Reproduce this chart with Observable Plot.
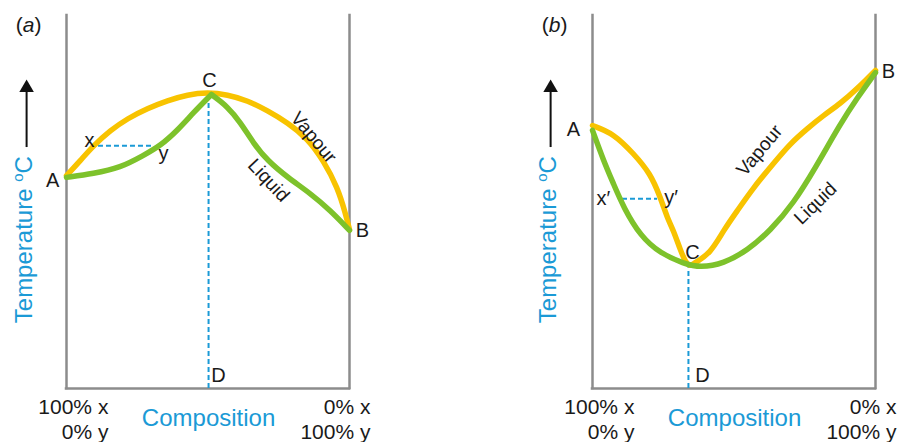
<!DOCTYPE html>
<html><head><meta charset="utf-8">
<script src="https://cdn.jsdelivr.net/npm/d3@7"></script>
<script src="https://cdn.jsdelivr.net/npm/@observablehq/plot@0.6"></script>
<style>
body{margin:0;background:#fff;}
#wrap{display:flex;width:898px;height:442px;background:#fff;}
svg{display:block;}
</style></head><body><div id="wrap"></div>
<script>
// ---- Panel (a): maximum-boiling azeotrope (composition %, temperature arbitrary 0-100)
const aVapourComp = [0, 4.9, 9.5, 15.5, 21.6, 28.6, 35.7, 42.8, 49.8, 56.9, 64.0, 71.0, 78.1, 85.2, 90.8, 95.8, 98.6, 100];
const aVapourTemp = [57.1, 61.1, 65.1, 69.2, 72.4, 75.1, 77.2, 78.8, 79.4, 78.8, 77.2, 74.5, 71.3, 67.0, 61.1, 53.9, 46.9, 42.6];
const aLiquidComp = [0, 9.5, 19.1, 27.2, 33.2, 39.2, 44.9, 51.2, 56.9, 61.5, 66.1, 71.0, 78.1, 86.2, 93.3, 100];
const aLiquidTemp = [56.6, 57.6, 59.2, 62.5, 65.1, 69.2, 74.0, 78.8, 75.6, 71.3, 65.7, 61.1, 56.6, 52.3, 47.7, 42.4];
const aAzeo = [50.2, 78.8];          // composition, temperature of point C
const aTie = [65.1, 11.3, 30.7];     // temperature, from, to

// ---- Panel (b): minimum-boiling azeotrope
const bVapourComp = [0, 7.4, 14.5, 20.5, 24.0, 26.5, 28.6, 31.1, 32.9, 34.6, 35.7, 41.7, 46.3, 51.2, 56.9, 63.9, 69.9, 75.9, 81.6, 87.6, 93.6, 100];
const bVapourTemp = [70.5, 68.4, 63.0, 57.6, 51.2, 45.6, 42.4, 37.0, 33.8, 32.7, 33.5, 36.2, 42.4, 47.7, 53.9, 60.3, 65.7, 69.7, 73.2, 76.4, 80.4, 85.3];
const bLiquidComp = [0, 3.9, 7.4, 11.0, 17.0, 24.0, 32.2, 38.2, 46.3, 54.8, 62.9, 71.0, 78.8, 87.6, 93.6, 100];
const bLiquidTemp = [69.2, 61.1, 54.9, 48.5, 40.8, 36.2, 33.5, 32.4, 33.5, 37.0, 42.4, 49.6, 59.2, 71.0, 78.0, 84.7];
const bAzeo = [33.9, 32.4];
const bTie = [50.9, 10.6, 23.0];

// ---- Text
const seriesNames = ["Vapour", "Liquid"];
const leftTicks = ["100% x", "0% y"];
const rightTicks = ["0% x", "100% y"];
const xTitle = "Composition";
const yTitle = "Temperature °C";

const YELLOW = "#F8C300", GREEN = "#7DC22B", BLUE = "#1B9AD6", GRAY = "#8C8C8C", INK = "#1a1a1a";
const FONT = "Liberation Sans, Arial, Helvetica, sans-serif";

// split a series into two segments at its extreme point (cusp), if asked
function series(c, t, splitAtMax) {
  const pts = c.map((v, i) => ({c: v, t: t[i], s: 0}));
  if (!splitAtMax) return pts;
  const k = d3.maxIndex(t);
  const left = pts.slice(0, k + 1).map(d => ({...d, s: 0}));
  const right = pts.slice(k).map(d => ({...d, s: 1}));
  return left.concat(right);
}

function txt(x, y, s, o = {}) {
  return Plot.text([s], {x: () => x, y: () => y, text: d => d, fontSize: 20, fill: INK,
    textAnchor: "middle", lineAnchor: "middle", fontFamily: FONT, ...o});
}

function makePanel(p) {
  const vap = series(p.vC, p.vT, false), liq = series(p.lC, p.lT, p.split);
  const svg = Plot.plot({
    width: 449, height: 442,
    marginLeft: p.ml, marginRight: p.mr, marginTop: 15, marginBottom: 54,
    x: {domain: [0, 100], axis: null},
    y: {domain: [0, 100], axis: null},
    style: {background: "#fff", fontFamily: FONT, overflow: "visible"},
    marks: [
      Plot.ruleX([0, 100], {y1: 0, y2: 100, stroke: GRAY, strokeWidth: 2.5, strokeLinecap: "square"}),
      Plot.ruleY([0], {x1: 0, x2: 100, stroke: GRAY, strokeWidth: 2.5, strokeLinecap: "square"}),
      Plot.ruleX([p.azeo[0]], {y1: 0, y2: p.azeo[1], stroke: BLUE, strokeWidth: 2, strokeDasharray: "5,3"}),
      Plot.ruleY([p.tie[0]], {x1: p.tie[1], x2: p.tie[2], stroke: BLUE, strokeWidth: 2, strokeDasharray: "5,3"}),
      Plot.line(vap, {x: "c", y: "t", z: "s", stroke: YELLOW, strokeWidth: 5.5, curve: "basis"}),
      Plot.line(liq, {x: "c", y: "t", z: "s", stroke: GREEN, strokeWidth: 5.5, curve: "basis"}),
      // point labels
      ...p.labels.map(([s, x, y]) => txt(x, y, s)),
      // curve labels
      txt(p.vapLab[0], p.vapLab[1], seriesNames[0], {rotate: p.vapLab[2], fontSize: 19}),
      txt(p.liqLab[0], p.liqLab[1], seriesNames[1], {rotate: p.liqLab[2], fontSize: 19}),
      // panel tag
      txt(p.tag[0], p.tag[1], p.tag[2], {fontSize: 21}),
      // axis titles
      txt(50.2, -8.0, xTitle, {fill: BLUE, fontSize: 24}),
      txt(p.yt[0], 39.9, yTitle, {fill: BLUE, fontSize: 24, rotate: -90}),
      // arrow
      Plot.ruleX([p.arrowX], {y1: 64.6, y2: 80, stroke: "#111", strokeWidth: 2}),
      Plot.dot([p.arrowX], {x: d => d, y: () => 80.6, symbol: "triangle", r: 5.4, fill: "#111", stroke: "none"}),
      // composition extremes
      txt(14.8, -5.1, leftTicks[0], {textAnchor: "end", fontSize: 21}),
      txt(14.8, -11.8, leftTicks[1], {textAnchor: "end", fontSize: 21}),
      txt(107.4, -5.1, rightTicks[0], {textAnchor: "end", fontSize: 21}),
      txt(107.4, -11.8, rightTicks[1], {textAnchor: "end", fontSize: 21})
    ]
  });
  // rich text tweaks: italic panel letter, superscript "o" in °C
  d3.select(svg).selectAll("text").each(function() {
    const t = this.textContent;
    if (t === p.tag[2]) {
      const sel = d3.select(this.querySelector("tspan") || this);
      sel.text("");
      sel.append("tspan").text("(");
      sel.append("tspan").attr("font-style", "italic").text(p.tag[2].slice(1, -1));
      sel.append("tspan").text(")");
    } else if (t === yTitle) {
      const sel = d3.select(this.querySelector("tspan") || this);
      sel.text("");
      sel.append("tspan").text("Temperature ");
      sel.append("tspan").attr("font-size", 15).attr("dy", -9).text("o");
      sel.append("tspan").attr("dy", 9).text("C");
    }
  });
  return svg;
}

const wrap = document.getElementById("wrap");
wrap.appendChild(makePanel({
  vC: aVapourComp, vT: aVapourTemp, lC: aLiquidComp, lT: aLiquidTemp, split: true,
  azeo: aAzeo, tie: aTie, ml: 66, mr: 100,
  labels: [["A", -4.9, 55.8], ["B", 104.6, 42.4], ["C", 50.5, 82.6], ["D", 53.7, 3.5], ["x", 8.1, 66.5], ["y", 34.3, 63.0]],
  vapLab: [87.3, 67.3, 50], liqLab: [71.4, 55.8, 47],
  tag: [-13.4, 97.3, "(a)"], yt: [-14.8], arrowX: -14.1
}));
wrap.appendChild(makePanel({
  vC: bVapourComp, vT: bVapourTemp, lC: bLiquidComp, lT: bLiquidTemp, split: false,
  azeo: bAzeo, tie: bTie, ml: 143, mr: 23,
  labels: [["A", -6.7, 69.4], ["B", 104.6, 85.0], ["C", 35.3, 36.5], ["D", 38.9, 3.5], ["x\u2032", 3.8, 50.9], ["y\u2032", 27.8, 51.2]],
  vapLab: [59.0, 63.8, -50], liqLab: [78.8, 49.6, -44],
  tag: [-13.4, 97.3, "(b)"], yt: [-15.5], arrowX: -14.8
}));
</script>
</body></html>
